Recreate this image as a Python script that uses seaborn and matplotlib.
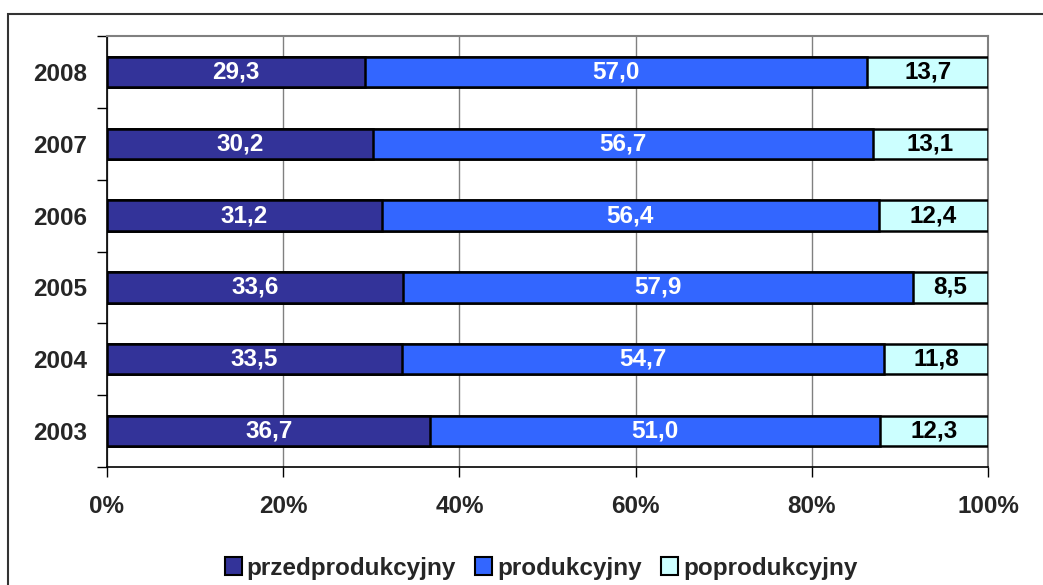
import numpy as np
import pandas as pd
import seaborn as sns
import matplotlib.pyplot as plt
from matplotlib.patches import Rectangle, Patch

# Data
years = ["2008", "2007", "2006", "2005", "2004", "2003"]
przed = [29.3, 30.2, 31.2, 33.6, 33.5, 36.7]
prod = [57.0, 56.7, 56.4, 57.9, 54.7, 51.0]
poprod = [13.7, 13.1, 12.4, 8.5, 11.8, 12.3]
series_names = ["przedprodukcyjny", "produkcyjny", "poprodukcyjny"]
colors = ["#333399", "#3366FF", "#CCFFFF"]
x_ticks = [0, 20, 40, 60, 80, 100]

sns.set_style("white")
plt.rcParams["font.family"] = ["Liberation Sans", "DejaVu Sans"]
plt.rcParams["font.weight"] = "bold"
fs = 17.5

df = pd.DataFrame({"year": years, "przed": przed, "prod": prod, "poprod": poprod})
df["c1"] = df["przed"]
df["c2"] = df["przed"] + df["prod"]
df["c3"] = df["c2"] + df["poprod"]

fig = plt.figure(figsize=(10.43, 5.85), dpi=100)
ax = fig.add_axes([107 / 1043, 1 - 467 / 585, (988 - 107) / 1043, (467 - 36) / 585])

# stacked bars drawn as overlapping cumulative totals
for col, c in zip(["c3", "c2", "c1"], colors[::-1]):
    sns.barplot(data=df, x=col, y="year", order=years, color=c, orient="h",
                width=0.42, edgecolor="black", linewidth=1.8, saturation=1,
                ax=ax, zorder=3)

# value labels
for i, row in df.iterrows():
    segs = [(0, row["przed"], "white"), (row["c1"], row["prod"], "white"),
            (row["c2"], row["poprod"], "black")]
    for start, val, tc in segs:
        ax.text(start + val / 2, i, f"{val:.1f}".replace(".", ","),
                ha="center", va="center", color=tc, fontsize=fs,
                fontweight="bold", zorder=5)

ax.set_xlim(0, 100)
ax.set_ylim(5.5, -0.5)
ax.set_xticks(x_ticks)
ax.set_xticklabels([f"{t}%" for t in x_ticks], fontsize=fs, fontweight="bold")
ax.set_yticks(range(len(years)))
ax.set_yticklabels(years, fontsize=fs, fontweight="bold")
ax.set_yticks(np.arange(-0.5, 6, 1), minor=True)
ax.tick_params(axis="y", which="major", length=0, pad=14)
ax.tick_params(axis="y", which="minor", length=7, width=1, color="black", direction="out", left=True)
ax.tick_params(axis="x", which="major", length=7, width=1, color="black", direction="out", pad=13, bottom=True)
ax.set_xlabel("")
ax.set_ylabel("")

ax.grid(axis="x", color="#808080", linewidth=1, zorder=0)
ax.set_axisbelow(True)
for s in ["top", "right"]:
    ax.spines[s].set_color("#808080")
    ax.spines[s].set_linewidth(1.5)
for s in ["left", "bottom"]:
    ax.spines[s].set_color("black")
    ax.spines[s].set_linewidth(1.2)

handles = [Patch(facecolor=c, edgecolor="black", linewidth=1.5) for c in colors]
fig.legend(handles, series_names, loc="center", bbox_to_anchor=(541 / 1043, 1 - 568 / 585),
           ncol=3, frameon=False, handlelength=0.7, handleheight=0.7,
           handletextpad=0.2, columnspacing=0.8, prop={"weight": "bold", "size": fs})

# outer frame (cut off at right and bottom)
fig.patches.append(Rectangle((8 / 1043, -0.1), 1.2, (585 - 14) / 585 + 0.1,
                             transform=fig.transFigure, fill=False,
                             edgecolor="#333333", linewidth=1.5))

fig.savefig("out.png", dpi=100)
